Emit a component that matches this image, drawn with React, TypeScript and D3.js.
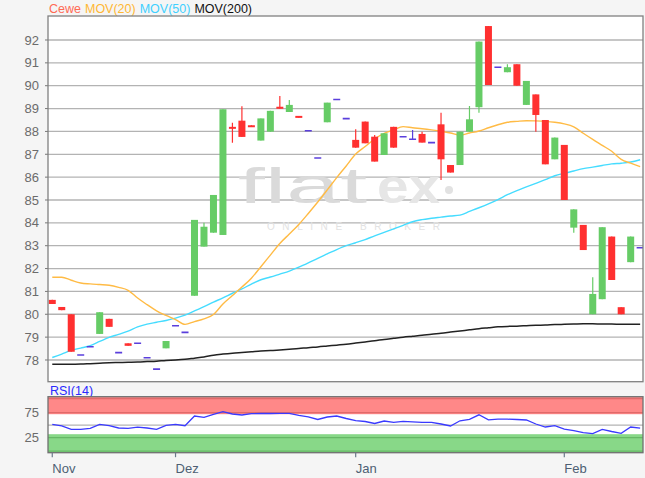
import React from "react";
import * as d3 from "d3";

// Daily candles (open, high, low, close), one per trading day from mid-November
const opens = [80.63, 80.32, 80.0, 78.22, 78.58, 79.14, 79.8, 78.32, 78.73, 78.73, 78.1, 77.6, 78.51, 79.5, 79.21, 80.81, 82.96, 83.57, 83.47, 88.2, 88.47, 88.27, 87.6, 87.99, 89.08, 88.85, 88.68, 88.03, 86.84, 88.4, 89.4, 88.56, 87.63, 88.43, 87.77, 86.97, 88.2, 87.77, 87.66, 87.89, 87.51, 88.31, 86.53, 86.53, 87.99, 89.06, 92.61, 90.81, 90.59, 90.94, 89.16, 89.62, 88.5, 86.78, 87.41, 83.79, 83.91, 80.0, 80.66, 83.4, 80.31, 82.28, 82.91];
const closes = [80.45, 80.18, 78.36, 78.22, 78.58, 80.09, 79.45, 78.32, 78.62, 78.73, 78.1, 77.6, 78.83, 79.5, 79.21, 84.13, 83.83, 85.22, 88.97, 88.12, 87.76, 88.22, 88.57, 88.9, 88.99, 89.16, 88.6, 88.03, 86.84, 89.26, 89.4, 88.56, 87.29, 87.48, 86.68, 87.92, 87.29, 87.77, 87.66, 87.51, 87.51, 86.78, 86.2, 87.99, 88.53, 91.93, 90.03, 90.81, 90.81, 90.0, 90.21, 88.72, 86.56, 87.73, 85.0, 84.59, 82.81, 80.89, 83.81, 81.5, 80.0, 83.4, 82.91];
const highs = [80.63, 80.32, 80.0, 78.22, 78.58, 80.09, 79.8, 78.32, 78.73, 78.73, 78.1, 77.6, 78.83, 79.5, 79.21, 84.13, 84.0, 85.22, 88.97, 88.38, 89.1, 88.27, 88.57, 88.9, 89.55, 89.38, 88.68, 88.03, 86.84, 89.26, 89.4, 88.56, 88.09, 88.43, 87.84, 87.92, 88.2, 87.77, 88.06, 87.99, 87.51, 88.82, 86.53, 87.99, 89.11, 91.93, 92.61, 90.81, 90.94, 90.94, 90.21, 89.62, 88.5, 87.73, 87.41, 84.59, 83.91, 81.62, 83.81, 83.4, 80.31, 83.4, 82.91];
const lows = [80.45, 80.18, 78.36, 78.22, 78.58, 79.14, 79.45, 78.32, 78.62, 78.73, 78.1, 77.6, 78.51, 79.5, 79.21, 80.81, 82.96, 83.57, 83.47, 87.5, 87.76, 88.22, 87.6, 87.99, 88.99, 88.85, 88.6, 88.03, 86.84, 88.4, 89.4, 88.56, 87.29, 87.48, 86.68, 86.97, 87.29, 87.77, 87.66, 87.51, 87.51, 85.88, 86.2, 86.53, 87.99, 88.82, 90.03, 90.81, 90.59, 90.0, 89.16, 87.99, 86.56, 86.78, 85.0, 83.57, 82.81, 80.0, 80.66, 81.5, 80.0, 82.28, 82.91];

// Moving averages
const mov20 = [81.62, 81.62, 81.49, 81.37, 81.33, 81.3, 81.27, 81.18, 81.05, 80.71, 80.42, 80.15, 79.95, 79.77, 79.56, 79.68, 79.8, 79.99, 80.45, 80.82, 81.19, 81.58, 82.08, 82.59, 83.1, 83.51, 83.93, 84.41, 84.91, 85.44, 85.98, 86.49, 87.01, 87.34, 87.67, 87.91, 88.07, 88.21, 88.16, 88.12, 88.07, 88.01, 87.93, 87.84, 87.93, 88.02, 88.16, 88.29, 88.4, 88.44, 88.47, 88.46, 88.44, 88.4, 88.33, 88.2, 87.92, 87.65, 87.39, 87.13, 86.78, 86.61, 86.46];
const mov50 = [78.11, 78.26, 78.42, 78.52, 78.63, 78.81, 78.99, 79.12, 79.26, 79.45, 79.57, 79.65, 79.73, 79.83, 79.96, 80.15, 80.33, 80.53, 80.72, 80.92, 81.11, 81.32, 81.51, 81.63, 81.76, 81.89, 82.06, 82.25, 82.45, 82.64, 82.83, 83.0, 83.13, 83.27, 83.43, 83.58, 83.74, 83.89, 84.05, 84.14, 84.2, 84.25, 84.3, 84.34, 84.5, 84.66, 84.83, 85.02, 85.23, 85.41, 85.57, 85.73, 85.89, 86.06, 86.17, 86.27, 86.37, 86.44, 86.51, 86.58, 86.61, 86.66, 86.76];
const mov200 = [77.81, 77.81, 77.81, 77.82, 77.84, 77.86, 77.88, 77.89, 77.9, 77.91, 77.93, 77.95, 77.98, 78.0, 78.03, 78.08, 78.13, 78.21, 78.26, 78.3, 78.33, 78.36, 78.39, 78.41, 78.44, 78.47, 78.5, 78.54, 78.57, 78.61, 78.65, 78.69, 78.74, 78.79, 78.84, 78.9, 78.95, 79.0, 79.04, 79.08, 79.13, 79.17, 79.22, 79.27, 79.32, 79.37, 79.41, 79.45, 79.47, 79.48, 79.5, 79.52, 79.53, 79.55, 79.56, 79.57, 79.58, 79.58, 79.57, 79.57, 79.56, 79.56, 79.56];

// RSI(14)
const rsi = [51.8, 48.6, 41.8, 41.8, 43.8, 51.6, 49, 44.4, 43.8, 46, 44.4, 41.8, 49.8, 51.8, 49, 68.4, 65.8, 71.8, 77, 72.4, 70.4, 73, 73.4, 73.4, 73.6, 73.8, 69.8, 66.8, 61.4, 66.4, 68.4, 63.4, 59, 57.4, 53.4, 58.4, 55.8, 57.8, 56.8, 55.8, 55.8, 52.4, 48.4, 58.8, 61.8, 70.8, 60.8, 62, 62, 61.4, 60.4, 52.4, 46.4, 49, 42, 39, 35.2, 33.2, 41.6, 37.4, 33.8, 46.4, 44];

const priceTicks = [78, 79, 80, 81, 82, 83, 84, 85, 86, 87, 88, 89, 90, 91, 92];
const rsiTicks = [75, 25];
const monthIndex = [0, 13, 32, 54];
const monthLabels = ["Nov", "Dez", "Jan", "Feb"];

const W = 645;
const H = 478;
const left = 48;
const right = 643;
const mainTop = 16;
const mainBottom = 381.7;
const rsiTop = 396.7;
const rsiBottom = 452.7;

const FONT = "'Liberation Sans', Arial, sans-serif";

export default function App() {
  const x = d3.scaleLinear().domain([-0.45, 62.3]).range([left, right]);
  const y = d3.scaleLinear().domain([77.05, 93.05]).range([mainBottom, mainTop]);
  const ry = d3.scaleLinear().domain([-5, 107]).range([rsiBottom, rsiTop]);
  const bw = 7;

  const idx = d3.range(opens.length);
  const maLine = (vals: number[]) =>
    d3
      .line<number>()
      .x((_, i) => x(i))
      .y((v) => y(v))
      .curve(d3.curveMonotoneX)(vals) || "";
  const rsiLine =
    d3
      .line<number>()
      .x((_, i) => x(i))
      .y((v) => ry(v))(rsi) || "";

  return (
    <div style={{ position: "absolute", left: 0, top: 0 }}>
      <svg width={W} height={H} style={{ display: "block", fontFamily: FONT }}>
        <defs>
          <clipPath id="mainClip">
            <rect x={left} y={mainTop} width={right - left} height={mainBottom - mainTop} />
          </clipPath>
          <clipPath id="rsiClip">
            <rect x={left} y={rsiTop} width={right - left} height={rsiBottom - rsiTop} />
          </clipPath>
        </defs>
        <rect x={0} y={0} width={W} height={H} fill="#f5f5f5" />

        {/* Legend */}
        <text x={49} y={13.3} fontSize={12.5}>
          <tspan fill="#ff6a55">Cewe</tspan>
          <tspan fill="#ffb733" dx={4}>MOV(20)</tspan>
          <tspan fill="#3fd0ff" dx={4}>MOV(50)</tspan>
          <tspan fill="#111" dx={4}>MOV(200)</tspan>
        </text>

        {/* Price panel */}
        <rect x={left} y={mainTop} width={right - left} height={mainBottom - mainTop} fill="#fff" />
        {priceTicks.map((t) => (
          <g key={t}>
            <line x1={left} x2={right} y1={y(t)} y2={y(t)} stroke="#b3b3b3" strokeWidth={1.3} />
            <line x1={45} x2={left} y1={y(t)} y2={y(t)} stroke="#777" strokeWidth={1} />
            <text x={39} y={y(t)} dy="0.35em" textAnchor="end" fontSize={13} fill="#6b6b6b">
              {t}
            </text>
          </g>
        ))}

        {/* Watermark */}
        <g>
          <text x={238} y={203} fontSize={50} fill="#dadada" textLength={129} lengthAdjust="spacingAndGlyphs">
            flat
          </text>
          <text x={377} y={203} fontSize={48} fontWeight="bold" fill="#e6e6e6" textLength={63} lengthAdjust="spacingAndGlyphs">
            ex
          </text>
          <circle cx={449} cy={190} r={4} fill="#e2e2e2" />
          <text x={267} y={230} fontSize={10} fill="#e2e2e2" textLength={173} lengthAdjust="spacing">
            ONLINE BROKER
          </text>
        </g>

        <g clipPath="url(#mainClip)">
          <path d={maLine(mov200)} fill="none" stroke="#222" strokeWidth={1.5} />
          <path d={maLine(mov50)} fill="none" stroke="#45dcff" strokeWidth={1.4} />
          <path d={maLine(mov20)} fill="none" stroke="#ffbb45" strokeWidth={1.4} />
          {idx.map((i) => {
            const o = opens[i];
            const c = closes[i];
            const cx = x(i);
            const doji = o === c;
            const color = doji ? "#5a3fdc" : c > o ? "#66cc66" : "#ff3030";
            const top = y(Math.max(o, c));
            const bot = y(Math.min(o, c));
            return (
              <g key={i}>
                {highs[i] > lows[i] && (
                  <line x1={cx} x2={cx} y1={y(highs[i])} y2={y(lows[i])} stroke={color} strokeWidth={1.2} />
                )}
                {doji ? (
                  <line x1={cx - bw / 2} x2={cx + bw / 2} y1={top} y2={top} stroke={color} strokeWidth={1.6} />
                ) : (
                  <rect x={cx - bw / 2} y={top} width={bw} height={Math.max(2, bot - top)} fill={color} />
                )}
              </g>
            );
          })}
        </g>
        <rect x={left} y={mainTop} width={right - left} height={mainBottom - mainTop} fill="none" stroke="#808080" strokeWidth={1.3} />

        {/* RSI panel */}
        <text x={50} y={395.3} fontSize={12.5} fill="#2a2aff">RSI(14)</text>
        <rect x={left} y={rsiTop} width={right - left} height={rsiBottom - rsiTop} fill="#fff" />
        <g clipPath="url(#rsiClip)">
          <rect x={left} y={rsiTop} width={right - left} height={ry(72) - rsiTop} fill="#ff8888" />
          <line x1={left} x2={right} y1={ry(103)} y2={ry(103)} stroke="#e06a6a" strokeWidth={1.3} />
          <line x1={left} x2={right} y1={ry(75)} y2={ry(75)} stroke="#e06a6a" strokeWidth={1.3} />
          <rect x={left} y={ry(32)} width={right - left} height={rsiBottom - ry(32)} fill="#88d888" />
          <line x1={left} x2={right} y1={ry(25)} y2={ry(25)} stroke="#66b866" strokeWidth={1.3} />
          <line x1={left} x2={right} y1={ry(-2)} y2={ry(-2)} stroke="#66b866" strokeWidth={1.3} />
          <line x1={left} x2={right} y1={ry(50)} y2={ry(50)} stroke="#b3b3b3" strokeWidth={1.2} />
          <path d={rsiLine} fill="none" stroke="#3a3aff" strokeWidth={1.3} />
        </g>
        <rect x={left} y={rsiTop} width={right - left} height={rsiBottom - rsiTop} fill="none" stroke="#707070" strokeWidth={1.3} />
        {rsiTicks.map((t) => (
          <text key={t} x={39} y={ry(t)} dy="0.35em" textAnchor="end" fontSize={13} fill="#6b6b6b">
            {t}
          </text>
        ))}

        {/* Month axis */}
        {monthIndex.map((mi, k) => (
          <g key={mi}>
            <line x1={x(mi)} x2={x(mi)} y1={rsiBottom} y2={rsiBottom + 4.5} stroke="#6b7b8b" strokeWidth={1.2} />
            <text x={x(mi)} y={472.5} fontSize={13} fill="#4d5f73">
              {monthLabels[k]}
            </text>
          </g>
        ))}
      </svg>
    </div>
  );
}
